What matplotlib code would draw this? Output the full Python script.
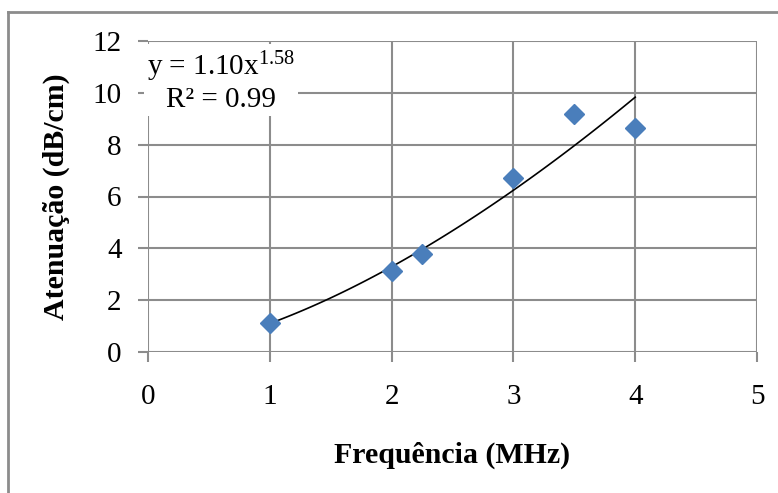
import numpy as np
import matplotlib
matplotlib.use('Agg')
import matplotlib.pyplot as plt
from matplotlib.lines import Line2D

plt.rcParams['font.family'] = ['Liberation Serif', 'DejaVu Serif']
plt.rcParams['mathtext.fontset'] = 'custom'
plt.rcParams['mathtext.rm'] = 'Liberation Serif'
plt.rcParams['mathtext.it'] = 'Liberation Serif:italic'
plt.rcParams['mathtext.default'] = 'regular'

# datos
frecuencia = [1.0, 2.0, 2.25, 3.0, 3.5, 4.0]
atenuacion = [1.12, 3.13, 3.78, 6.72, 9.19, 8.65]
coef_a = 1.10
coef_b = 1.58
xtks = [0, 1, 2, 3, 4, 5]
ytks = [0, 2, 4, 6, 8, 10, 12]

fig = plt.figure(figsize=(7.78, 4.93), dpi=100)
ax = fig.add_axes([148/778, 1-352/493, (757-148)/778, (352-41)/493])

# curva de tendencia potencial
xf = np.linspace(min(frecuencia), max(frecuencia), 100)
ax.plot(xf, coef_a*xf**coef_b, color='black', lw=1.2, zorder=3)
ax.plot(frecuencia, atenuacion, 'D', color='#4a7ebb', ms=10, mec='#4a7ebb', zorder=4, clip_on=False)

ax.set_xlim(0, 5)
ax.set_ylim(0, 12)
ax.set_xticks(xtks)
ax.set_yticks(ytks)
ax.grid(True, color='#8c8c8c', lw=1.5)
ax.set_axisbelow(True)
for s in ax.spines.values():
    s.set_visible(False)
ax.tick_params(axis='both', colors='#8c8c8c', labelcolor='black', labelsize=21,
               length=7, width=1.5, direction='out')
ax.tick_params(axis='x', pad=16)
ax.tick_params(axis='y', pad=12)

ax.set_xlabel('Frequência (MHz)', fontsize=21.5, fontweight='bold', labelpad=23)
ax.set_ylabel('Atenuação (dB/cm)', fontsize=21.5, fontweight='bold', labelpad=16)

ax.text(0.6, 10.45, 'y = %.2fx$^{%.2f}$\nR² = 0.99' % (coef_a, coef_b),
        fontsize=21, ha='center', va='center', linespacing=1.15,
        bbox=dict(facecolor='white', edgecolor='none', pad=2), zorder=5)

# marco del grafico
fig.add_artist(Line2D([8/778, 8/778], [0, 1-12/493], color='#8c8c8c', lw=2, transform=fig.transFigure))
fig.add_artist(Line2D([8/778, 777/778], [1-12/493, 1-12/493], color='#8c8c8c', lw=2, transform=fig.transFigure))

fig.savefig('out.png', dpi=100)
